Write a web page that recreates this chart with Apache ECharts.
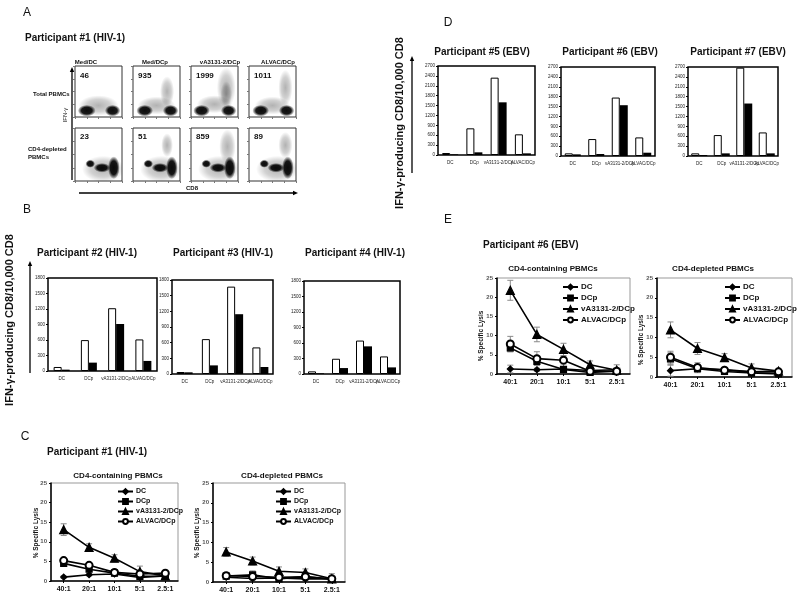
<!DOCTYPE html>
<html>
<head>
<meta charset="utf-8">
<script src="https://cdn.jsdelivr.net/npm/echarts@6/dist/echarts.min.js"></script>
<style>
  html, body { margin: 0; padding: 0; background: #fff; }
  #main { width: 800px; height: 599px; }
</style>
</head>
<body>
<div id="main"></div>
<script>
const FONT = 'Liberation Sans, Arial, sans-serif'

// A: flow plots, IFN-g+ cells per 10,000 CD8
const flowConditions = ['Med/DC', 'Med/DCp', 'vA3131-2/DCp', 'ALVAC/DCp']
const flowTotalCounts = [46, 935, 1999, 1011]
const flowDepletedCounts = [23, 51, 859, 89]
// event clouds, log units: [CD8, IFN-g, spreadX, spreadY, dense=1 / sparse=0]
const flowTotalClouds = [
  [[2.0, 0.9, 1.7, 0.8, 0], [1.0, 0.5, 0.75, 0.45, 1], [3.2, 0.5, 0.65, 0.45, 1]],
  [[2.0, 0.9, 1.6, 0.7, 0], [2.9, 2.0, 0.6, 1.2, 0], [1.0, 0.5, 0.7, 0.45, 1], [3.2, 0.5, 0.65, 0.45, 1]],
  [[2.0, 1.0, 1.5, 0.7, 0], [3.0, 2.3, 0.8, 1.6, 0], [3.0, 1.8, 0.5, 1.0, 0], [0.9, 0.5, 0.7, 0.45, 1], [3.2, 0.5, 0.65, 0.45, 1]],
  [[2.0, 0.9, 1.5, 0.7, 0], [3.1, 2.3, 0.6, 1.4, 0], [1.0, 0.5, 0.7, 0.45, 1], [3.2, 0.5, 0.65, 0.45, 1]]
]
const flowDepletedClouds = [
  [[2.4, 0.9, 1.8, 1.0, 0], [2.3, 1.0, 0.7, 0.35, 1], [1.3, 1.3, 0.4, 0.3, 1], [3.3, 1.0, 0.5, 0.85, 1]],
  [[2.4, 0.9, 1.8, 1.0, 0], [2.9, 2.7, 0.5, 0.9, 0], [2.3, 1.0, 0.7, 0.35, 1], [1.3, 1.3, 0.4, 0.3, 1], [3.3, 1.0, 0.5, 0.85, 1]],
  [[2.4, 0.9, 1.8, 1.0, 0], [3.1, 2.6, 0.7, 1.3, 0], [2.3, 1.0, 0.7, 0.35, 1], [1.3, 1.3, 0.4, 0.3, 1], [3.3, 1.0, 0.5, 0.85, 1]],
  [[2.4, 0.9, 1.8, 1.0, 0], [3.1, 2.7, 0.6, 1.0, 0], [2.3, 1.0, 0.7, 0.35, 1], [1.3, 1.3, 0.4, 0.3, 1], [3.3, 1.0, 0.5, 0.85, 1]]
]

// B and D: white = total PBMCs, black = CD4-depleted
const barCategories = ['DC', 'DCp', 'vA3131-2/DCp', 'ALVAC/DCp']
const p2Total = [78, 598, 1215, 611]
const p2Depleted = [26, 162, 910, 195]
const p3Total = [38, 668, 1673, 509]
const p3Depleted = [32, 165, 1145, 134]
const p4Total = [51, 295, 647, 340]
const p4Depleted = [13, 115, 535, 128]
const p5Total = [60, 809, 2346, 627]
const p5Depleted = [20, 81, 1598, 50]
const p6Total = [80, 514, 1773, 564]
const p6Depleted = [50, 60, 1541, 100]
const p7Total = [80, 635, 2680, 715]
const p7Depleted = [30, 80, 1592, 80]

// C and E: % specific lysis, rows follow lysisSeries
const ratios = ['40:1', '20:1', '10:1', '5:1', '2.5:1']
const lysisSeries = ['DC', 'DCp', 'vA3131-2/DCp', 'ALVAC/DCp']
const lysisP1Total = [[1.0, 1.6, 1.8, 0.9, 1.3], [4.5, 3.0, 2.0, 1.2, 1.2], [13.1, 8.6, 5.8, 2.4, 1.3], [5.2, 4.0, 2.2, 1.8, 2.0]]
const errP1Total = [[0.3, 0.3, 0.3, 0.3, 0.3], [0.5, 0.5, 0.4, 0.4, 0.3], [1.5, 0.9, 0.9, 1.4, 0.5], [0.5, 0.5, 0.4, 0.5, 0.4]]
const lysisP1Depleted = [[1.2, 0.9, 1.0, 0.8, 0.8], [1.5, 1.8, 0.8, 1.4, 0.7], [7.6, 5.3, 2.7, 2.4, 0.8], [1.6, 1.4, 1.2, 1.3, 0.8]]
const errP1Depleted = [[0.4, 0.4, 0.4, 0.4, 0.4], [0.5, 1.0, 0.5, 0.6, 0.4], [1.1, 1.0, 1.1, 0.9, 1.3], [0.5, 0.5, 0.5, 0.5, 0.4]]
const lysisP6Total = [[1.3, 1.1, 1.3, 0.9, 1.1], [6.8, 3.3, 1.2, 0.4, 0.7], [21.8, 10.3, 6.4, 2.4, 1.0], [7.8, 4.0, 3.6, 0.7, 0.7]]
const errP6Total = [[1.0, 0.4, 0.4, 0.3, 0.3], [1.0, 1.0, 0.6, 0.3, 0.4], [2.6, 1.9, 1.6, 1.0, 1.4], [2.0, 1.8, 1.0, 0.4, 0.4]]
const lysisP6Depleted = [[1.6, 2.1, 1.9, 1.3, 1.5], [4.6, 2.1, 1.4, 1.0, 0.8], [11.9, 7.2, 4.9, 2.3, 1.5], [5.0, 2.4, 1.7, 1.3, 1.3]]
const errP6Depleted = [[1.4, 0.4, 0.4, 0.4, 0.4], [1.5, 1.0, 0.8, 0.4, 0.4], [2.0, 1.5, 1.0, 1.0, 0.5], [1.5, 1.2, 0.6, 0.4, 0.4]]

const chart = echarts.init(document.getElementById('main'))

const grids = []
const xAxes = []
const yAxes = []
const series = []
const legends = []
const graphics = []

function addGrid(l, t, r, b, border, bw) {
  grids.push({ left: l, top: t, width: r - l, height: b - t, show: true, borderColor: border, borderWidth: bw, backgroundColor: 'transparent' })
  return grids.length - 1
}

const denseStops = [{ offset: 0, color: 'rgba(0,0,0,0.95)' }, { offset: 0.6, color: 'rgba(0,0,0,0.9)' }, { offset: 1, color: 'rgba(0,0,0,0.05)' }]
const sparseStops = [{ offset: 0, color: 'rgba(0,0,0,0.3)' }, { offset: 0.6, color: 'rgba(0,0,0,0.18)' }, { offset: 1, color: 'rgba(0,0,0,0)' }]

function renderCloud(params, api) {
  const c = api.coord([api.value(0), api.value(1)])
  const s = api.size([api.value(2), api.value(3)])
  const dense = api.value(4) === 1
  // unit circle stretched to the cloud's spread, so the gradient follows the ellipse
  return {
    type: 'circle', x: c[0], y: c[1], scaleX: s[0], scaleY: s[1],
    shape: { cx: 0, cy: 0, r: 1 },
    style: { fill: new echarts.graphic.RadialGradient(0.5, 0.5, 0.5, dense ? denseStops : sparseStops) }
  }
}

function renderErr(params, api) {
  const lo = api.coord([api.value(0), api.value(1)])
  const hi = api.coord([api.value(0), api.value(2)])
  const st = { stroke: '#8a8a8a', lineWidth: 1 }
  return {
    type: 'group',
    children: [
      { type: 'line', shape: { x1: lo[0], y1: lo[1], x2: hi[0], y2: hi[1] }, style: st },
      { type: 'line', shape: { x1: lo[0] - 3, y1: lo[1], x2: lo[0] + 3, y2: lo[1] }, style: st },
      { type: 'line', shape: { x1: hi[0] - 3, y1: hi[1], x2: hi[0] + 3, y2: hi[1] }, style: st }
    ]
  }
}

function addFlow(l, t, r, b, clouds) {
  const gi = addGrid(l, t, r, b, '#333', 1)
  const ax = {
    gridIndex: gi, type: 'value', min: 0, max: 4, interval: 1,
    axisLine: { show: false }, axisTick: { show: true, length: 2, lineStyle: { color: '#777' } },
    axisLabel: { show: false }, splitLine: { show: false }
  }
  xAxes.push(ax)
  yAxes.push(Object.assign({}, ax))
  series.push({ type: 'custom', xAxisIndex: gi, yAxisIndex: gi, silent: true, clip: true, data: clouds, renderItem: renderCloud })
}

function addBars(l, t, r, b, max, total, depleted) {
  const gi = addGrid(l, t, r, b, '#000', 1.5)
  xAxes.push({
    gridIndex: gi, type: 'category', data: barCategories,
    axisLine: { show: false }, axisTick: { show: false },
    axisLabel: { interval: 0, fontSize: 4.5, margin: 5, color: '#222', fontFamily: FONT }
  })
  yAxes.push({
    gridIndex: gi, type: 'value', min: 0, max: max, interval: 300,
    axisLine: { show: false }, axisTick: { show: true, length: 2, lineStyle: { color: '#000' } },
    axisLabel: { fontSize: 4.5, margin: 3, color: '#222', fontFamily: FONT, formatter: v => String(v) },
    splitLine: { show: false }
  })
  series.push({
    type: 'bar', name: 'Total PBMCs', xAxisIndex: gi, yAxisIndex: gi, data: total,
    barWidth: 8, barGap: '0%', itemStyle: { color: '#fff', borderColor: '#000', borderWidth: 1 }
  })
  series.push({
    type: 'bar', name: 'CD4-depleted PBMCs', xAxisIndex: gi, yAxisIndex: gi, data: depleted,
    barWidth: 8, barGap: '0%', itemStyle: { color: '#000' }
  })
}

const lysisSymbols = ['diamond', 'rect', 'triangle', 'emptyCircle']
const lysisSizes = [6, 6, 8, 7]

function addLysis(l, t, r, b, values, errs, legLeft, legTop, legFont) {
  const gi = addGrid(l, t, r, b, '#999', 1)
  xAxes.push({
    gridIndex: gi, type: 'category', data: ratios, boundaryGap: true,
    axisLine: { lineStyle: { color: '#000', width: 1.5 } },
    axisTick: { show: true, alignWithLabel: true, length: 2, lineStyle: { color: '#000' } },
    axisLabel: { interval: 0, fontSize: 7, fontWeight: 'bold', color: '#111', margin: 5, fontFamily: FONT }
  })
  yAxes.push({
    gridIndex: gi, type: 'value', min: 0, max: 25, interval: 5,
    axisLine: { show: true, lineStyle: { color: '#000', width: 1.5 } },
    axisTick: { show: true, length: 2, lineStyle: { color: '#000' } },
    axisLabel: { fontSize: 6, fontWeight: 'bold', color: '#555', margin: 4, fontFamily: FONT },
    splitLine: { show: false }
  })
  values.forEach((vals, k) => {
    series.push({
      type: 'custom', name: 'err' + gi + '-' + k, xAxisIndex: gi, yAxisIndex: gi, silent: true, clip: true, z: 1,
      encode: { x: 0, y: [1, 2] },
      data: vals.map((v, i) => [i, v - errs[k][i], v + errs[k][i]]),
      renderItem: renderErr
    })
  })
  values.forEach((vals, k) => {
    series.push({
      type: 'line', name: lysisSeries[k], xAxisIndex: gi, yAxisIndex: gi, data: vals, z: 3,
      symbol: lysisSymbols[k], symbolSize: lysisSizes[k], showAllSymbol: true,
      lineStyle: { color: '#000', width: 1.6 },
      itemStyle: { color: '#000', borderColor: '#000', borderWidth: 1.2 }
    })
  })
  legends.push({
    data: lysisSeries, left: legLeft, top: legTop, orient: 'vertical',
    itemWidth: 15, itemHeight: 6, itemGap: 3, padding: 0, selectedMode: false,
    textStyle: { fontSize: legFont, fontWeight: 'bold', color: '#111', fontFamily: FONT, padding: [0, 0, 0, -2] }
  })
}

function txt(text, x, y, size, weight, align, rot) {
  graphics.push({
    type: 'text', x: x, y: y, rotation: rot || 0, silent: true,
    style: { text: text, fontSize: size, fontWeight: weight, fontFamily: FONT, fill: '#111', align: align || 'center', verticalAlign: 'middle' }
  })
}

function arrow(x1, y1, x2, y2) {
  const ang = Math.atan2(y2 - y1, x2 - x1)
  const L = 5, W = 2.2
  const bx = x2 - L * Math.cos(ang), by = y2 - L * Math.sin(ang)
  graphics.push({ type: 'line', silent: true, shape: { x1: x1, y1: y1, x2: bx, y2: by }, style: { stroke: '#000', lineWidth: 1.3 } })
  graphics.push({
    type: 'polygon', silent: true,
    shape: { points: [[x2, y2], [bx - W * Math.sin(ang), by + W * Math.cos(ang)], [bx + W * Math.sin(ang), by - W * Math.cos(ang)]] },
    style: { fill: '#000' }
  })
}

// ---- panel A
const flowCols = [[75, 122], [133, 180], [191, 238], [249, 296]]
const flowHeadX = [86, 155, 220, 278]
flowCols.forEach((c, i) => {
  addFlow(c[0], 66, c[1], 117, flowTotalClouds[i])
  addFlow(c[0], 128, c[1], 181, flowDepletedClouds[i])
  txt(flowConditions[i], flowHeadX[i], 62, 6, 'bold')
  txt(String(flowTotalCounts[i]), c[0] + 5, 76, 8, 'bold', 'left')
  txt(String(flowDepletedCounts[i]), c[0] + 5, 137, 8, 'bold', 'left')
})
txt('A', 27, 13, 12, 'normal')
txt('Participant #1 (HIV-1)', 25, 38, 10, 'bold', 'left')
txt('Total PBMCs', 33, 94, 6, 'bold', 'left')
txt('CD4-depleted', 28, 149, 6, 'bold', 'left')
txt('PBMCs', 28, 157, 6, 'bold', 'left')
txt('IFN-γ', 65, 115, 6, 'normal', 'center', Math.PI / 2)
txt('CD8', 192, 188, 6, 'bold')
arrow(72, 180, 72, 67)
arrow(79, 193, 298, 193)

// ---- panel B
txt('B', 27, 210, 12, 'normal')
addBars(48, 278, 157, 371, 1800, p2Total, p2Depleted)
addBars(172, 280, 273, 374, 1800, p3Total, p3Depleted)
addBars(304, 281, 400, 374, 1800, p4Total, p4Depleted)
txt('Participant #2 (HIV-1)', 87, 253, 10, 'bold')
txt('Participant #3 (HIV-1)', 223, 253, 10, 'bold')
txt('Participant #4 (HIV-1)', 355, 253, 10, 'bold')
txt('IFN-γ-producing CD8/10,000 CD8', 10, 320, 11, 'bold', 'center', Math.PI / 2)
arrow(30, 373, 30, 261)

// ---- panel C
txt('C', 25, 437, 12, 'normal')
txt('Participant #1 (HIV-1)', 47, 452, 10, 'bold', 'left')
addLysis(51, 483, 178, 581, lysisP1Total, errP1Total, 117, 488, 7)
addLysis(213, 483, 345, 582, lysisP1Depleted, errP1Depleted, 275, 488, 7)
txt('CD4-containing PBMCs', 118, 476, 8, 'bold')
txt('CD4-depleted PBMCs', 282, 476, 8, 'bold')
txt('% Specific Lysis', 36, 533, 6.5, 'bold', 'center', Math.PI / 2)
txt('% Specific Lysis', 197, 533, 6.5, 'bold', 'center', Math.PI / 2)

// ---- panel D
txt('D', 448, 23, 12, 'normal')
addBars(438, 66, 535, 155, 2700, p5Total, p5Depleted)
addBars(561, 67, 655, 156, 2700, p6Total, p6Depleted)
addBars(688, 67, 778, 156, 2700, p7Total, p7Depleted)
txt('Participant #5 (EBV)', 482, 52, 10, 'bold')
txt('Participant #6 (EBV)', 610, 52, 10, 'bold')
txt('Participant #7 (EBV)', 738, 52, 10, 'bold')
txt('IFN-γ-producing CD8/10,000 CD8', 400, 123, 11, 'bold', 'center', Math.PI / 2)
arrow(412, 173, 412, 56)

// ---- panel E
txt('E', 448, 220, 12, 'normal')
txt('Participant #6 (EBV)', 483, 245, 10, 'bold', 'left')
addLysis(497, 278, 630, 374, lysisP6Total, errP6Total, 562, 283, 8)
addLysis(657, 278, 792, 377, lysisP6Depleted, errP6Depleted, 724, 283, 8)
txt('CD4-containing PBMCs', 553, 269, 8, 'bold')
txt('CD4-depleted PBMCs', 713, 269, 8, 'bold')
txt('% Specific Lysis', 481, 336, 6.5, 'bold', 'center', Math.PI / 2)
txt('% Specific Lysis', 641, 340, 6.5, 'bold', 'center', Math.PI / 2)

chart.setOption({
  animation: false,
  backgroundColor: '#fff',
  textStyle: { fontFamily: FONT },
  grid: grids,
  xAxis: xAxes,
  yAxis: yAxes,
  legend: legends,
  series: series,
  graphic: { elements: graphics }
})
</script>
</body>
</html>
